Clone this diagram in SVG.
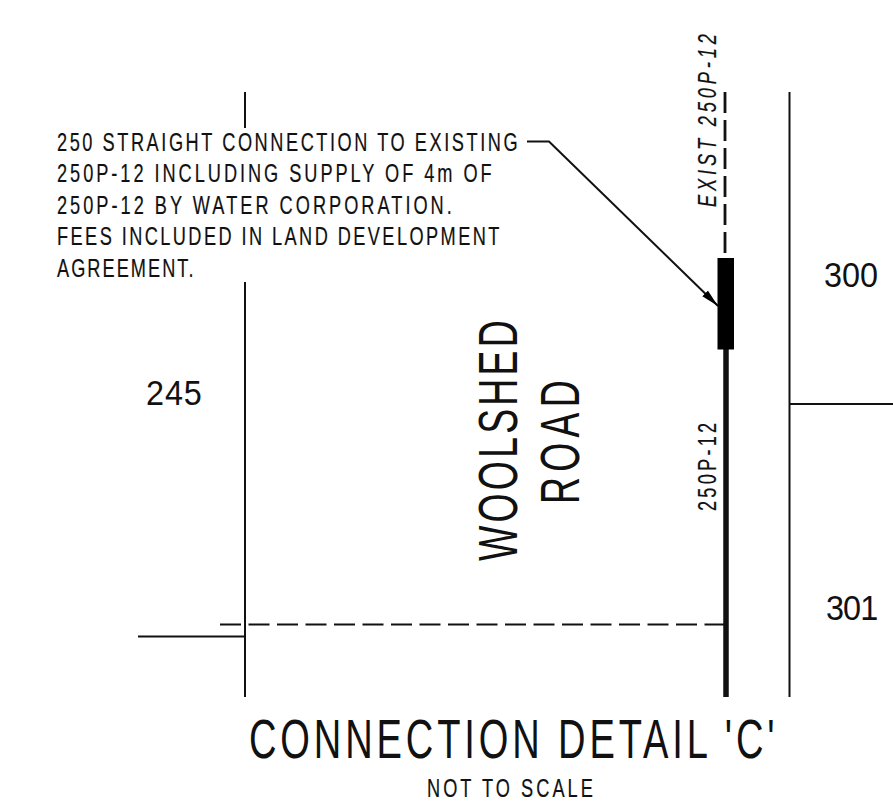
<svg xmlns="http://www.w3.org/2000/svg" width="893" height="809" viewBox="0 0 893 809">
<style>
text{font-family:"Liberation Sans",Arial,sans-serif;fill:#111}
.n{font-size:26px;stroke:#111;stroke-width:.2px}
.m{font-size:36px}
.b{font-size:55px}
.l{stroke:#111;fill:none;stroke-width:2}
</style>
<defs><marker id="a" markerUnits="userSpaceOnUse" markerWidth="20" markerHeight="10" refX="18" refY="4" orient="auto"><path d="M0 0L18 4L0 8Z" fill="#000"/></marker></defs>
<rect width="893" height="809" fill="#fff"/>
<g id="connectors">
<path class="l" d="M245 92V128M245 282V697M789.500 92V697M789.500 404H893M138 636.500H246"/>
<path class="l" d="M220 624.500H724" stroke-dasharray="21 7.500"/>
<path class="l" d="M725 92V255" stroke-dasharray="21 7" style="stroke-width:2.800"/>
<path class="l" d="M726 349V697" style="stroke-width:5.500"/>
<path class="l" d="M527 141.500H549L718 306" marker-end="url(#a)"/>
</g>
<g id="fitting"><rect x="717.500" y="258" width="16.500" height="91.500" fill="#000"/></g>
<g id="note">
<text class="n" transform="translate(57 151) scale(.7 1)" textLength="658">250 STRAIGHT CONNECTION TO EXISTING</text>
<text class="n" transform="translate(57 182) scale(.7 1)" textLength="621">250P-12 INCLUDING SUPPLY OF 4m OF</text>
<text class="n" transform="translate(57 214) scale(.7 1)" textLength="564">250P-12 BY WATER CORPORATION.</text>
<text class="n" transform="translate(57 245) scale(.7 1)" textLength="632">FEES INCLUDED IN LAND DEVELOPMENT</text>
<text class="n" transform="translate(57 277) scale(.7 1)" textLength="195">AGREEMENT.</text>
</g>
<g id="lot-245"><text class="m" transform="translate(146 405) scale(.9 1)" textLength="62">245</text></g>
<g id="lot-300"><text class="m" transform="translate(824 287) scale(.9 1)" textLength="60">300</text></g>
<g id="lot-301"><text class="m" transform="translate(826 620) scale(.9 1)" textLength="58">301</text></g>
<g id="road">
<text class="b" transform="translate(517 561) rotate(-90) scale(.68 1)" textLength="354">WOOLSHED</text>
<text class="b" transform="translate(579 504) rotate(-90) scale(.68 1)" textLength="182">ROAD</text>
</g>
<g id="pipe-labels">
<text class="n" transform="translate(716 207) rotate(-90) scale(.7 1)" font-style="italic" textLength="247">EXIST 250P-12</text>
<text class="n" transform="translate(716 511) rotate(-90) scale(.7 1)" textLength="126">250P-12</text>
</g>
<g id="title">
<text class="b" style="font-size:56px" transform="translate(249 758) scale(.68 1)" textLength="773">CONNECTION DETAIL 'C'</text>
<text class="n" transform="translate(427 797) scale(.7 1)" textLength="237">NOT TO SCALE</text>
</g>
</svg>
